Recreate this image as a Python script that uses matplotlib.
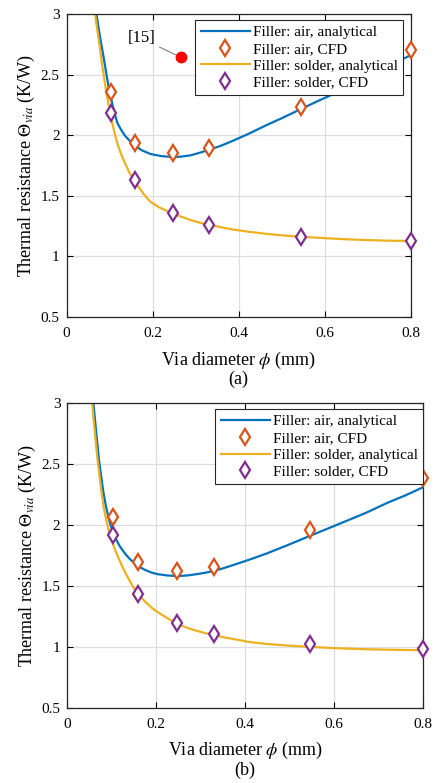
import matplotlib
matplotlib.use("Agg")
import matplotlib.pyplot as plt

plt.rcParams['font.family'] = ['Liberation Serif', 'DejaVu Serif']
plt.rcParams['mathtext.fontset'] = 'stix'

# CFD sample diameters (mm)
x_cfd = [0.102, 0.16, 0.247, 0.331, 0.546, 0.8]

# (a) CFD results
a_air_cfd = [2.356, 1.933, 1.851, 1.894, 2.233, 2.703]
a_solder_cfd = [2.18, 1.63, 1.361, 1.259, 1.163, 1.127]

# (a) analytical curves
a_air_x = [0.069, 0.074, 0.078, 0.083, 0.087, 0.093, 0.098, 0.102, 0.108,
           0.113, 0.118, 0.125, 0.131, 0.137, 0.145, 0.157, 0.175, 0.195,
           0.22, 0.246, 0.265, 0.288, 0.31, 0.335, 0.36, 0.387, 0.425,
           0.465, 0.5, 0.543, 0.58, 0.62, 0.66, 0.698, 0.75, 0.8]
a_air_y = [3.0, 2.89, 2.80, 2.70, 2.62, 2.49, 2.39, 2.32, 2.23,
           2.16, 2.10, 2.055, 2.02, 1.99, 1.96, 1.92, 1.875, 1.845,
           1.828, 1.82, 1.823, 1.834, 1.856, 1.884, 1.915, 1.955, 2.015,
           2.084, 2.14, 2.213, 2.275, 2.34, 2.41, 2.483, 2.575, 2.66]
a_sol_x = [0.066, 0.070, 0.075, 0.079, 0.083, 0.088, 0.092, 0.096, 0.1007,
           0.106, 0.112, 0.118, 0.127, 0.137, 0.146, 0.156, 0.17, 0.18,
           0.195, 0.215, 0.23, 0.246, 0.265, 0.288, 0.31, 0.335, 0.36,
           0.387, 0.42, 0.465, 0.5, 0.543, 0.58, 0.62, 0.66, 0.698, 0.75, 0.8]
a_sol_y = [3.0, 2.90, 2.78, 2.67, 2.57, 2.45, 2.36, 2.28, 2.19,
           2.10, 2.01, 1.93, 1.84, 1.76, 1.69, 1.63, 1.56, 1.51,
           1.45, 1.405, 1.38, 1.356, 1.33, 1.30, 1.278, 1.259, 1.24,
           1.222, 1.205, 1.186, 1.174, 1.163, 1.155, 1.147, 1.14, 1.135, 1.13, 1.127]

# (b) CFD results
b_air_cfd = [2.066, 1.692, 1.623, 1.658, 1.957, 2.38]
b_solder_cfd = [1.916, 1.432, 1.192, 1.103, 1.02, 0.987]

# (b) analytical curves
b_air_x = [0.0585, 0.062, 0.0665, 0.0713, 0.076, 0.081, 0.0864, 0.092, 0.097,
           0.103, 0.11, 0.117, 0.124, 0.133, 0.142, 0.151, 0.161, 0.175,
           0.19, 0.2025, 0.225, 0.247, 0.27, 0.292, 0.31, 0.33, 0.35,
           0.373, 0.41, 0.4485, 0.5, 0.5475, 0.6, 0.64, 0.673, 0.72, 0.76, 0.8]
b_air_y = [3.0, 2.87, 2.70, 2.53, 2.40, 2.27, 2.16, 2.07, 2.00,
           1.94, 1.88, 1.83, 1.793, 1.75, 1.715, 1.685, 1.658, 1.63,
           1.608, 1.596, 1.585, 1.58, 1.585, 1.596, 1.607, 1.623, 1.643,
           1.67, 1.715, 1.765, 1.84, 1.912, 1.99, 2.05, 2.10, 2.18, 2.24, 2.307]
b_sol_x = [0.056, 0.059, 0.0635, 0.0675, 0.0725, 0.0775, 0.0825, 0.088, 0.094,
           0.101, 0.108, 0.116, 0.124, 0.133, 0.142, 0.151, 0.161, 0.175,
           0.19, 0.2025, 0.225, 0.247, 0.27, 0.292, 0.31, 0.33, 0.35,
           0.373, 0.41, 0.4485, 0.5, 0.5475, 0.6, 0.673, 0.74, 0.8]
b_sol_y = [3.0, 2.87, 2.70, 2.55, 2.40, 2.25, 2.13, 2.03, 1.94,
           1.86, 1.79, 1.72, 1.656, 1.59, 1.53, 1.475, 1.426, 1.37,
           1.32, 1.287, 1.235, 1.19, 1.155, 1.131, 1.113, 1.097, 1.08,
           1.065, 1.04, 1.024, 1.01, 1.0, 0.99, 0.981, 0.976, 0.973]

# reference [15] point
ref_x, ref_y = 0.265, 2.643

labels = ['Filler: air, analytical', 'Filler: air, CFD',
          'Filler: solder, analytical', 'Filler: solder, CFD']
xticks = [0, 0.2, 0.4, 0.6, 0.8]
xticklabels = ['0', '0.2', '0.4', '0.6', '0.8']
yticks = [0.5, 1, 1.5, 2, 2.5, 3]
yticklabels = ['0.5', '1', '1.5', '2', '2.5', '3']

c_blue = '#0072BD'
c_orange = '#D95319'
c_yellow = '#EDB120'
c_purple = '#7E2F8E'


def draw(ax, ax_x, ax_y, air_cfd, sx, sy, sol_cfd, leg_anchor, xlab_y, ylab_x):
    ax.plot(ax_x, ax_y, color=c_blue, lw=1.6, label=labels[0])
    ax.plot(x_cfd, air_cfd, 'd', ms=8.5, mfc='white', mec=c_orange, mew=1.6,
            label=labels[1], clip_on=False, zorder=4)
    ax.plot(sx, sy, color=c_yellow, lw=1.6, label=labels[2])
    ax.plot(x_cfd, sol_cfd, 'd', ms=8.5, mfc='white', mec=c_purple, mew=1.6,
            label=labels[3], clip_on=False, zorder=4)
    ax.set_xlim(0, 0.8)
    ax.set_ylim(0.5, 3)
    ax.set_xticks(xticks)
    ax.set_xticklabels(xticklabels)
    ax.set_yticks(yticks)
    ax.set_yticklabels(yticklabels)
    ax.tick_params(direction='in', length=4, width=0.8, top=True, right=True,
                   labelsize=11)
    ax.tick_params(axis='x', pad=7)
    ax.tick_params(axis='y', pad=5)
    ax.grid(True, color='#dedede', lw=0.9)
    ax.set_axisbelow(True)
    for s in ax.spines.values():
        s.set_linewidth(0.9)
        s.set_color('#262626')
    ax.set_xlabel(r'Via diameter $\phi$ (mm)', fontsize=13)
    ax.set_ylabel(r'Thermal resistance $\Theta_{via}$ (K/W)', fontsize=13)
    ax.xaxis.set_label_coords(0.5, xlab_y)
    ax.yaxis.set_label_coords(ylab_x, 0.5)
    leg = ax.legend(loc='upper right', bbox_to_anchor=leg_anchor,
                    borderaxespad=0, fontsize=11, handlelength=3.2,
                    handletextpad=0.2, labelspacing=0.2, borderpad=0.35,
                    fancybox=False, framealpha=1, edgecolor='#262626')
    leg.get_frame().set_linewidth(0.8)


fig = plt.figure(figsize=(4.37, 7.83), dpi=100)
ax1 = fig.add_axes([0.1526, 0.5951, 0.7872, 0.387])
ax2 = fig.add_axes([0.154, 0.0958, 0.814, 0.39])

draw(ax1, a_air_x, a_air_y, a_air_cfd, a_sol_x, a_sol_y, a_solder_cfd,
     (0.978, 0.980), -0.108, -0.085)
ax1.plot([ref_x], [ref_y], 'o', color='#FF0000', ms=7.5, zorder=5)
ax1.annotate('[15]', xy=(ref_x, ref_y), xytext=(0.174, 2.80), fontsize=12,
             ha='center', va='center',
             arrowprops=dict(arrowstyle='-', color='gray', lw=0.8,
                             shrinkA=1, shrinkB=4))

draw(ax2, b_air_x, b_air_y, b_air_cfd, b_sol_x, b_sol_y, b_solder_cfd,
     (1.0, 0.978), -0.104, -0.083)

fig.text(238 / 437, 1 - 379 / 783, '(a)', ha='center', va='center', fontsize=13)
fig.text(245 / 437, 1 - 770 / 783, '(b)', ha='center', va='center', fontsize=13)

fig.savefig('out.png', dpi=100)
